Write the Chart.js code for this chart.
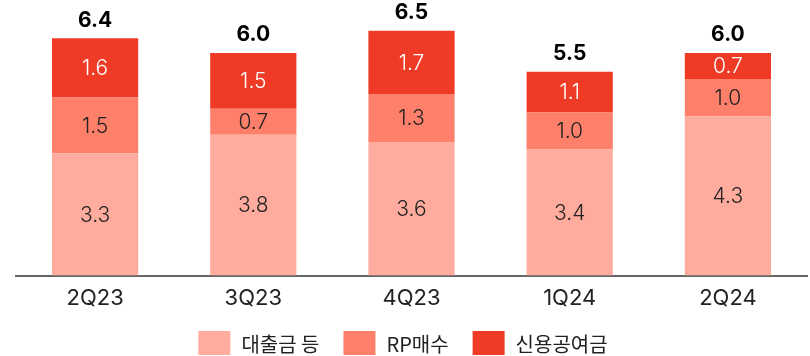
<!DOCTYPE html>
<html>
<head>
<meta charset="utf-8">
<script src="https://cdn.jsdelivr.net/npm/chart.js@4/dist/chart.umd.min.js"></script>
<style>
  html, body { margin: 0; padding: 0; background: #fff; }
  #wrap { width: 810px; height: 356px; position: relative; }
</style>
</head>
<body>
<div id="wrap"><canvas id="c"></canvas></div>
<script>
// Quarters and the three funding components (trillion won)
const quarters = ['2Q23', '3Q23', '4Q23', '1Q24', '2Q24'];
const loans = [3.3, 3.8, 3.6, 3.4, 4.3];      // 대출금 등
const rpBuys = [1.5, 0.7, 1.3, 1.0, 1.0];     // RP매수
const credit = [1.6, 1.5, 1.7, 1.1, 0.7];     // 신용공여금
const totals = [6.4, 6.0, 6.5, 5.5, 6.0];     // stack totals shown above bars

const FONT = 'Inter, "Noto Sans CJK KR", sans-serif';
const KFONT = '"Noto Sans CJK KR", Inter, sans-serif';

// Writes each segment value inside its bar and the total above the stack
const valueLabels = {
  id: 'valueLabels',
  afterDatasetsDraw(chart) {
    const ctx = chart.ctx;
    ctx.save();
    ctx.textAlign = 'center';
    ctx.textBaseline = 'middle';
    chart.data.datasets.forEach((ds, di) => {
      const meta = chart.getDatasetMeta(di);
      meta.data.forEach((bar, i) => {
        const mid = (bar.y + bar.base) / 2;
        ctx.font = '300 21px ' + FONT;
        ctx.fillStyle = ds.labelColor;
        ctx.fillText(ds.data[i].toFixed(1), bar.x, mid + 1);
      });
    });
    const top = chart.getDatasetMeta(chart.data.datasets.length - 1);
    top.data.forEach((bar, i) => {
      ctx.font = '700 21px ' + FONT;
      ctx.fillStyle = '#000';
      ctx.fillText(totals[i].toFixed(1), bar.x, bar.y - 18);
    });
    ctx.restore();
  }
};

// Centred legend row along the bottom edge
const bottomLegend = {
  id: 'bottomLegend',
  afterDraw(chart) {
    const ctx = chart.ctx;
    const boxW = 32, boxH = 24, gap = 11, spacing = 24;
    const boxTop = 331;
    ctx.save();
    ctx.font = '400 20px ' + KFONT;
    ctx.textBaseline = 'middle';
    ctx.textAlign = 'left';
    const items = chart.data.datasets.map(ds => ({
      text: ds.label, color: ds.backgroundColor, w: ctx.measureText(ds.label).width
    }));
    const total = items.reduce((s, it) => s + boxW + gap + it.w, 0) + spacing * (items.length - 1);
    let x = (chart.width - total) / 2 - 2;
    items.forEach(it => {
      ctx.fillStyle = it.color;
      ctx.fillRect(x, boxTop, boxW, boxH);
      ctx.fillStyle = '#222';
      ctx.fillText(it.text, x + boxW + gap, boxTop + boxH / 2 + 1);
      x += boxW + gap + it.w + spacing;
    });
    ctx.restore();
  }
};

new Chart(document.getElementById('c'), {
  type: 'bar',
  data: {
    labels: quarters,
    datasets: [
      { label: '대출금 등', data: loans, backgroundColor: '#FFAC9E', labelColor: '#222' },
      { label: 'RP매수', data: rpBuys, backgroundColor: '#FF806A', labelColor: '#222' },
      { label: '신용공여금', data: credit, backgroundColor: '#EF3A25', labelColor: '#fff' }
    ]
  },
  options: {
    responsive: true,
    maintainAspectRatio: false,
    animation: false,
    devicePixelRatio: 1,
    layout: { padding: { top: 16, left: 16, right: 3, bottom: 34 } },
    datasets: { bar: { categoryPercentage: 0.545, barPercentage: 1.0, borderWidth: 0 } },
    scales: {
      x: {
        stacked: true,
        grid: { display: false, drawTicks: false },
        border: { display: true, color: '#666', width: 2 },
        ticks: { color: '#222', font: { family: FONT, size: 22 }, padding: 10 }
      },
      y: {
        stacked: true,
        display: false,
        min: 0,
        max: 7.0
      }
    },
    plugins: {
      legend: { display: false },
      tooltip: { enabled: false }
    }
  },
  plugins: [valueLabels, bottomLegend]
});
</script>
</body>
</html>
